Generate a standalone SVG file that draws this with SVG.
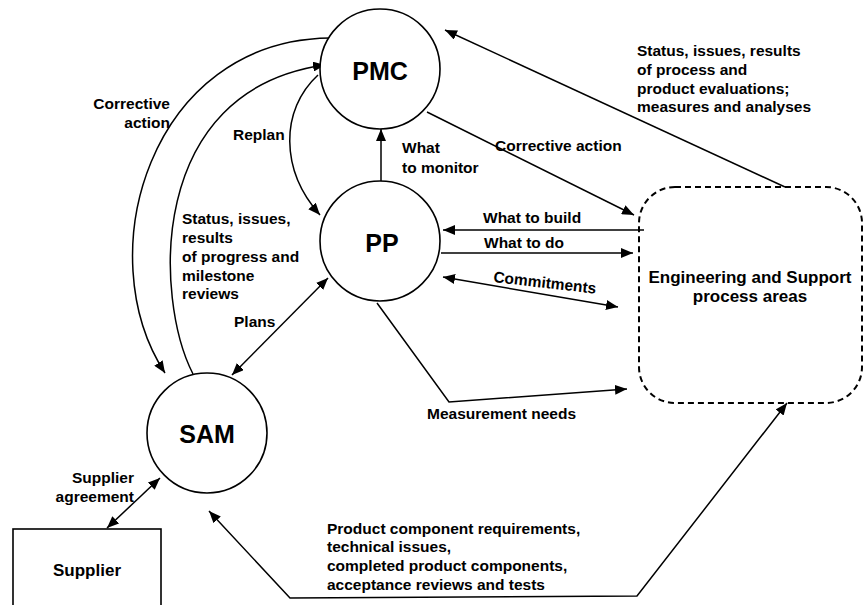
<svg xmlns="http://www.w3.org/2000/svg" width="864" height="605" viewBox="0 0 864 605">
<style>
.lbl{font-family:"Liberation Sans",Arial,sans-serif;font-weight:bold;font-size:15.5px;fill:#000}
.big{font-family:"Liberation Sans",Arial,sans-serif;font-weight:bold;font-size:25px;fill:#000;text-anchor:middle}
.mid{font-family:"Liberation Sans",Arial,sans-serif;font-weight:bold;font-size:17px;fill:#000;text-anchor:middle}
.node{fill:#fff;stroke:#000;stroke-width:1.6}
.con{fill:none;stroke:#000;stroke-width:1.5}
</style>
<defs>
<marker id="ah" viewBox="0 0 12 10" refX="12" refY="5" markerWidth="12" markerHeight="10" markerUnits="userSpaceOnUse" orient="auto-start-reverse">
<path d="M0,0 L12,5 L0,10 z" fill="#000"/>
</marker>
</defs>
<rect width="864" height="605" fill="#fff"/>
<g id="connectors">
<path class="con" d="M330,38 C150,40 88,255 165,373" marker-end="url(#ah)"/>
<path class="con" d="M193,374 C155,300 145,90 325,65" marker-end="url(#ah)"/>
<path class="con" d="M318,75 C280,110 280,170 320,215" marker-end="url(#ah)"/>
<path class="con" d="M381,181 L381,129" marker-end="url(#ah)"/>
<path class="con" d="M427,112 L634,215" marker-end="url(#ah)"/>
<path class="con" d="M785,187 L445,30" marker-end="url(#ah)"/>
<path class="con" d="M644,230 L443,230" marker-end="url(#ah)"/>
<path class="con" d="M441,253 L633,253" marker-end="url(#ah)"/>
<path class="con" d="M443,277 L618,307" marker-start="url(#ah)" marker-end="url(#ah)"/>
<path class="con" d="M377,303 L449,402 L627,389" marker-end="url(#ah)"/>
<path class="con" d="M328,278 L232,375" marker-start="url(#ah)" marker-end="url(#ah)"/>
<path class="con" d="M160,478 L107,528" marker-start="url(#ah)" marker-end="url(#ah)"/>
<path class="con" d="M209,511 L290,598 L637,596 L787,403" marker-start="url(#ah)" marker-end="url(#ah)"/>
</g>
<g id="labels">
<text class="lbl" text-anchor="end"><tspan x="170" y="109">Corrective</tspan><tspan x="170" y="128">action</tspan></text>
<text class="lbl" x="233" y="140">Replan</text>
<text class="lbl"><tspan x="402" y="153">What</tspan><tspan x="402" y="173">to monitor</tspan></text>
<text class="lbl" x="495" y="151">Corrective action</text>
<text class="lbl"><tspan x="637" y="56">Status, issues, results</tspan><tspan x="637" y="75">of process and</tspan><tspan x="637" y="94">product evaluations;</tspan><tspan x="637" y="112">measures and analyses</tspan></text>
<text class="lbl" x="483" y="223">What to build</text>
<text class="lbl" x="484" y="248">What to do</text>
<text class="lbl" transform="translate(493,282) rotate(6.5)" x="0" y="0">Commitments</text>
<text class="lbl"><tspan x="182" y="224">Status, issues,</tspan><tspan x="182" y="243">results</tspan><tspan x="182" y="262">of progress and</tspan><tspan x="182" y="281">milestone</tspan><tspan x="182" y="299">reviews</tspan></text>
<text class="lbl" x="234" y="327">Plans</text>
<text class="lbl" x="427" y="419">Measurement needs</text>
<text class="lbl" text-anchor="end"><tspan x="134" y="483">Supplier</tspan><tspan x="134" y="502">agreement</tspan></text>
<text class="lbl"><tspan x="327" y="534">Product component requirements,</tspan><tspan x="327" y="552">technical issues,</tspan><tspan x="327" y="571">completed product components,</tspan><tspan x="327" y="590">acceptance reviews and tests</tspan></text>
</g>
<g id="PMC">
<circle class="node" cx="380" cy="69" r="60"/>
<text class="big" x="380" y="80">PMC</text>
</g>
<g id="PP">
<circle class="node" cx="380" cy="241" r="60"/>
<text class="big" x="382" y="252">PP</text>
</g>
<g id="SAM">
<circle class="node" cx="207" cy="433" r="60"/>
<text class="big" x="207" y="443">SAM</text>
</g>
<g id="Supplier">
<rect class="node" x="13" y="529" width="148" height="100"/>
<text class="mid" x="87" y="576">Supplier</text>
</g>
<g id="Engineering">
<rect x="639" y="187" width="223" height="216" rx="36" ry="36" fill="none" stroke="#000" stroke-width="2" stroke-dasharray="6,4"/>
<text class="mid"><tspan x="750" y="283">Engineering and Support</tspan><tspan x="750" y="302">process areas</tspan></text>
</g>
</svg>
